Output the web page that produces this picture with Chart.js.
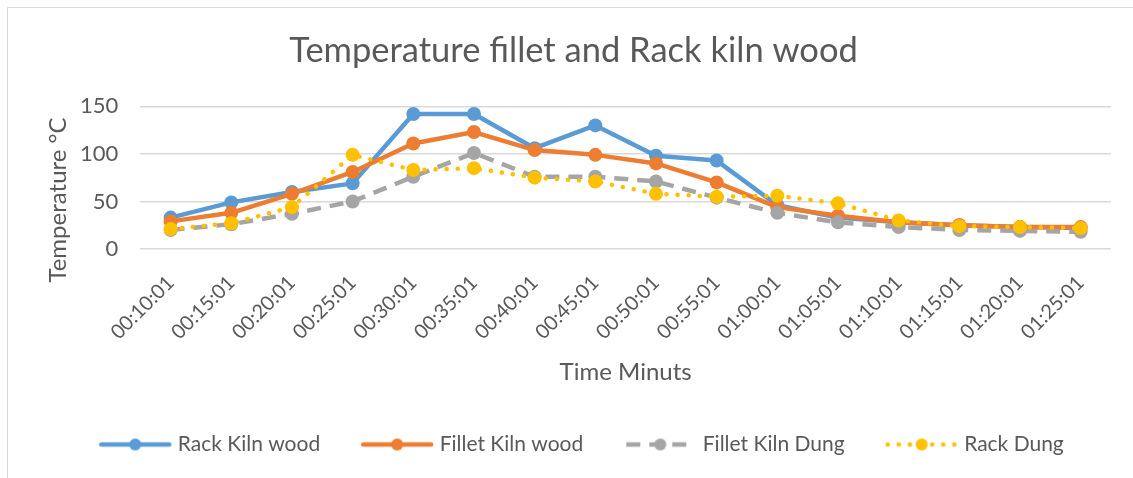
<!DOCTYPE html>
<html>
<head>
<meta charset="utf-8">
<script src="https://cdn.jsdelivr.net/npm/chart.js@4"></script>
<style>
  body { margin: 0; background: #fff; }
  #wrap { width: 1133px; height: 478px; }
</style>
</head>
<body>
<div id="wrap"><canvas id="chart_content" width="1133" height="478"></canvas></div>
<script>
var canvasElement = document.getElementById("chart_content");

const times = ["00:10:01", "00:15:01", "00:20:01", "00:25:01", "00:30:01", "00:35:01",
	"00:40:01", "00:45:01", "00:50:01", "00:55:01", "01:00:01", "01:05:01",
	"01:10:01", "01:15:01", "01:20:01", "01:25:01"];

const rackKilnWood = [33, 49, 60, 69, 142, 142, 106, 130, 98, 93, 46, 33, 28, 25, 23, 22];
const filletKilnWood = [29, 38, 58, 81, 111, 123, 104, 99, 90, 70, 44, 35, 28, 25, 23, 23];
const filletKilnDung = [20, 26, 37, 50, 76, 101, 76, 76, 71, 54, 38, 28, 23, 20, 19, 18];
const rackDung = [21, 27, 44, 99, 83, 85, 75, 71, 58, 55, 56, 48, 30, 24, 23, 22];

const yTicks = [0, 50, 100, 150];
const yTitle = "Temperature °C";

const textColor = "#595959";
const fontName = "Lato, 'Liberation Sans', sans-serif";

// little line + marker picture for each legend entry
function legendIcon(color, dash, cap, r) {
	var c = document.createElement("canvas");
	c.width = 74;
	c.height = 20;
	var g = c.getContext("2d");
	g.strokeStyle = color;
	g.lineWidth = 4.5;
	g.lineCap = cap;
	g.setLineDash(dash);
	g.beginPath();
	g.moveTo(3, 10);
	g.lineTo(71, 10);
	g.stroke();
	g.setLineDash([]);
	g.fillStyle = color;
	g.beginPath();
	g.arc(37, 10, r, 0, 2 * Math.PI);
	g.fill();
	return c;
}

const series = [
	{ label: "Rack Kiln wood", data: rackKilnWood, color: "#5B9BD5", dash: [], cap: "round", order: 3 },
	{ label: "Fillet Kiln wood", data: filletKilnWood, color: "#ED7D31", dash: [], cap: "round", order: 2 },
	{ label: "Fillet Kiln Dung", data: filletKilnDung, color: "#A5A5A5", dash: [14, 9], cap: "butt", order: 1 },
	{ label: "Rack Dung", data: rackDung, color: "#FFC000", dash: [0.1, 11], cap: "round", order: 0 }
];

const frame = {
	id: "frame",
	afterLayout(chart) {
		// excel centres title and legend on the whole frame, not the padded area
		chart.legend.left -= 1;
		chart.legend.right -= 1;
		chart.titleBlock.left -= 11;
		chart.titleBlock.right -= 11;
	},
	beforeDraw(chart) {
		var ctx = chart.ctx;
		ctx.save();
		ctx.fillStyle = "#fff";
		ctx.fillRect(0, 0, chart.width, chart.height);
		ctx.strokeStyle = "#d9d9d9";
		ctx.lineWidth = 1;
		ctx.strokeRect(7.5, 7.5, chart.width + 20, chart.height + 20);
		ctx.restore();
	},
	afterDraw(chart) {
		// y axis title, excel puts it a little lower than the plot centre
		var ctx = chart.ctx;
		ctx.save();
		ctx.translate(58, 200);
		ctx.rotate(-Math.PI / 2);
		ctx.fillStyle = textColor;
		ctx.font = "24px " + fontName;
		ctx.textAlign = "center";
		ctx.textBaseline = "middle";
		ctx.fillText(yTitle, 0, 0);
		ctx.restore();
	}
};

function drawChart() {
	var config = {
		type: "line",
		data: {
			labels: times,
			datasets: series.map(function (s) {
				return {
					label: s.label,
					data: s.data,
					borderColor: s.color,
					backgroundColor: s.color,
					borderWidth: 4.5,
					borderDash: s.dash,
					borderCapStyle: s.cap,
					borderJoinStyle: "round",
					pointRadius: 7,
					pointBorderWidth: 0,
					pointBackgroundColor: s.color,
					tension: 0,
					order: s.order
				};
			})
		},
		options: {
			responsive: false,
			animation: false,
			layout: { padding: { top: 30, right: 22, bottom: 13, left: 58 } },
			plugins: {
				title: {
					display: true,
					text: "Temperature fillet and Rack kiln wood",
					color: textColor,
					font: { family: fontName, size: 34.5, weight: "normal" },
					padding: { top: 0, bottom: 35 }
				},
				legend: {
					position: "bottom",
					labels: {
						usePointStyle: true,
						pointStyleWidth: 64,
						padding: 45,
						color: textColor,
						font: { family: fontName, size: 21 },
						generateLabels: function (chart) {
							return series.map(function (s, i) {
								return {
									text: s.label,
									fontColor: textColor,
									pointStyle: legendIcon(s.color, s.dash, s.cap, 6),
									datasetIndex: i,
									hidden: false,
									lineWidth: 0,
									strokeStyle: "transparent",
									fillStyle: "transparent"
								};
							});
						}
					}
				},
				tooltip: { enabled: false }
			},
			scales: {
				x: {
					offset: true,
					grid: { display: false },
					border: { display: false },
					ticks: {
						color: textColor,
						font: { family: fontName, size: 20 },
						minRotation: 45,
						maxRotation: 45,
						padding: 14
					},
					title: {
						display: true,
						text: "Time Minuts",
						color: textColor,
						font: { family: fontName, size: 24 },
						padding: { top: 0, bottom: 2 }
					}
				},
				y: {
					min: 0,
					max: 150,
					afterBuildTicks: function (axis) {
						axis.ticks = yTicks.map(function (v) { return { value: v }; });
					},
					grid: { color: "#d9d9d9", lineWidth: 1.5, drawTicks: false },
					border: { display: false },
					ticks: {
						color: textColor,
						font: { family: fontName, size: 22 },
						padding: 22
					}
				}
			}
		},
		plugins: [frame]
	};

	var content_chart = new Chart(canvasElement, config);
}

window.onload = function () {
	drawChart();
};
</script>
</body>
</html>
